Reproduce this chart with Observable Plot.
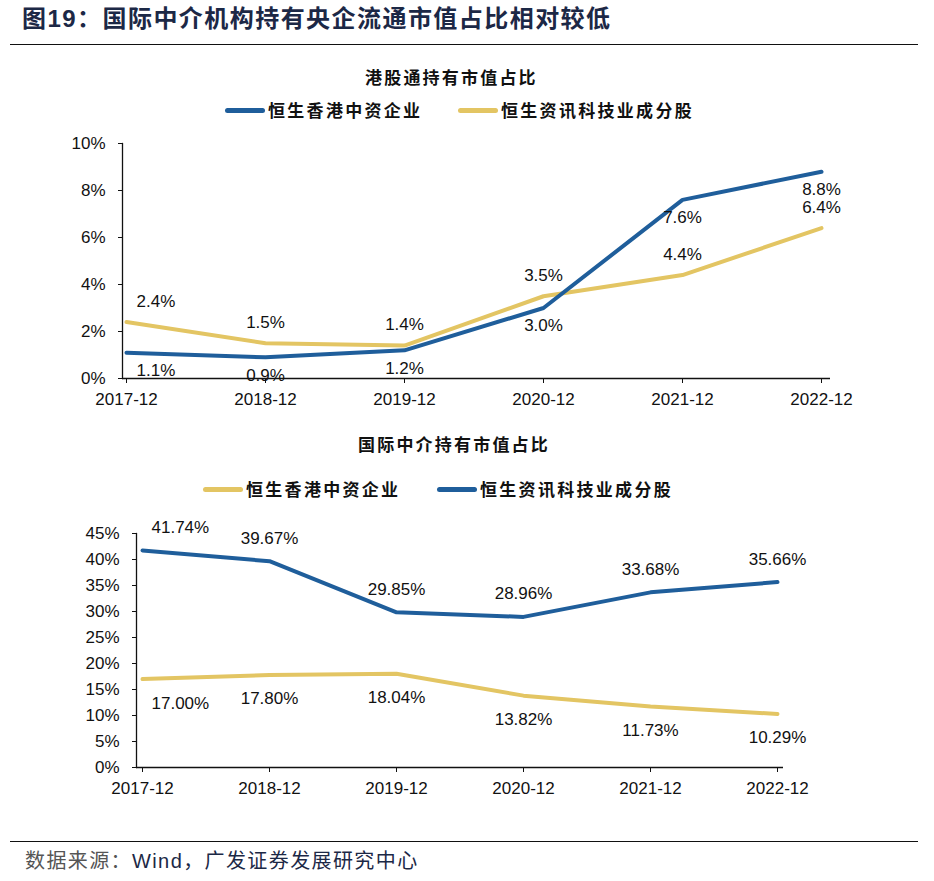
<!DOCTYPE html>
<html><head><meta charset="utf-8">
<script src="https://cdn.jsdelivr.net/npm/d3@7"></script>
<script src="https://cdn.jsdelivr.net/npm/@observablehq/plot@0.6"></script>
<style>
body{margin:0;background:#fff;width:934px;height:881px;position:relative;overflow:hidden;font-family:"Liberation Sans",Arial,sans-serif;}
#title{position:absolute;left:22px;top:4px;font-family:"Liberation Sans","Noto Sans CJK SC";font-weight:700;font-size:24px;color:#1c2846;letter-spacing:1.45px;white-space:nowrap;line-height:30px}
.hr{position:absolute;left:10px;width:908px;height:0;border-top:1.5px solid #111;}
.ctitle{position:absolute;font-family:"Noto Sans CJK SC";font-weight:700;font-size:17px;letter-spacing:2.2px;color:#111;white-space:nowrap;line-height:20px}
.leg{position:absolute;display:flex;align-items:center;font-family:"Noto Sans CJK SC";font-weight:700;font-size:17px;letter-spacing:2.3px;color:#111;white-space:nowrap;line-height:20px}
.sw{display:inline-block;width:40px;height:5px;border-radius:3px;margin-right:3px}
.chart{position:absolute;left:0}
.chart svg{overflow:visible}
#foot{position:absolute;left:25px;top:849px;font-family:"Liberation Sans","Noto Sans CJK SC";font-size:20px;letter-spacing:1.4px;color:#1c2846;white-space:nowrap;line-height:24px}
</style></head>
<body>
<script>
// ---- data ----
const dates = ["2017-12","2018-12","2019-12","2020-12","2021-12","2022-12"];
const seriesNames = ["恒生香港中资企业","恒生资讯科技业成分股"];
// 港股通持有市值占比 (%)
const c1HK   = [1.1, 0.9, 1.2, 3.0, 7.6, 8.8];
const c1Tech = [2.4, 1.5, 1.4, 3.5, 4.4, 6.4];
const c1Ticks = [0, 2, 4, 6, 8, 10];
// 国际中介持有市值占比 (%)
const c2HK   = [17.00, 17.80, 18.04, 13.82, 11.73, 10.29];
const c2Tech = [41.74, 39.67, 29.85, 28.96, 33.68, 35.66];
const c2Ticks = [0, 5, 10, 15, 20, 25, 30, 35, 40, 45];

const mainTitle = "图19：国际中介机构持有央企流通市值占比相对较低";
const chart1Title = "港股通持有市值占比";
const chart2Title = "国际中介持有市值占比";
const source = "数据来源：Wind，广发证券发展研究中心";

const BLUE = "#1f5e9b", GOLD = "#e3c563";

function el(cls, css, html) {
  const d = document.createElement("div");
  if (cls) d.className = cls;
  if (css) d.style.cssText = css;
  if (html != null) d.innerHTML = html;
  document.body.appendChild(d);
  return d;
}

function chart(o) {
  const rowsA = dates.map((d, i) => ({d, v: o.above[i], i}));
  const rowsB = dates.map((d, i) => ({d, v: o.below[i], i}));
  const fmt = r => r.v.toFixed(o.digits) + "%";
  const isFirst = r => r.i === 0;
  const notFirst = r => r.i > 0;
  const textStyle = {fontSize: 17, fill: "#111"};
  const p = Plot.plot({
    width: 934, height: o.height,
    marginTop: o.mt, marginBottom: o.mb, marginLeft: o.ml, marginRight: o.mr,
    x: {type: "point", domain: dates, padding: 0, insetLeft: o.il, insetRight: o.ir, label: null},
    y: {domain: [0, o.ymax], label: null},
    style: {fontFamily: "'Liberation Sans', Arial, sans-serif", fontSize: "17px", color: "#111", background: "transparent", overflow: "visible"},
    marks: [
      Plot.frame({anchor: "left", stroke: "#111", strokeWidth: 1.3}),
      Plot.ruleY([0], {stroke: "#111", strokeWidth: 1.3}),
      Plot.axisY({ticks: o.ticks, tickSize: 4, tickPadding: 13, tickFormat: d => d + "%", label: null}),
      Plot.axisX({tickSize: 5, tickPadding: 9, label: null}),
      Plot.lineY(o.aboveColor === GOLD ? rowsA : rowsB, {x: "d", y: "v", stroke: GOLD, strokeWidth: 4, strokeLinecap: "round", strokeLinejoin: "round"}),
      Plot.lineY(o.aboveColor === GOLD ? rowsB : rowsA, {x: "d", y: "v", stroke: BLUE, strokeWidth: 4, strokeLinecap: "round", strokeLinejoin: "round"}),
      Plot.text(rowsA.filter(notFirst), {x: "d", y: "v", text: fmt, dy: -o.off, ...textStyle}),
      Plot.text(rowsA.filter(isFirst), {x: "d", y: "v", text: fmt, dy: -o.off, dx: o.firstDx, textAnchor: "start", ...textStyle}),
      Plot.text(rowsB.filter(notFirst), {x: "d", y: "v", text: fmt, dy: o.offB, ...textStyle}),
      Plot.text(rowsB.filter(isFirst), {x: "d", y: "v", text: fmt, dy: o.offB, dx: o.firstDx, textAnchor: "start", ...textStyle})
    ]
  });
  const wrap = el("chart", `top:${o.top}px`);
  wrap.appendChild(p);
}

function legendItem(left, top, color, name) {
  el("leg", `left:${left}px;top:${top}px`, `<span class="sw" style="background:${color}"></span><span>${name}</span>`);
}

// header
const t = el(null, null, null); t.id = "title"; t.textContent = mainTitle;
el("hr", "top:44px");

// chart 1
el("ctitle", "left:365px;top:67px").textContent = chart1Title;
legendItem(225, 100, BLUE, seriesNames[0]);
legendItem(458, 100, GOLD, seriesNames[1]);
chart({top: 130, height: 280, mt: 13, mb: 32, ml: 122, mr: 104, il: 3, ir: 8,
  ymax: 10, ticks: c1Ticks, above: c1Tech, below: c1HK, aboveColor: GOLD,
  digits: 1, off: 21, offB: 18, firstDx: 10});

// chart 2
el("ctitle", "left:358px;top:434px").textContent = chart2Title;
legendItem(203, 479, GOLD, seriesNames[0]);
legendItem(437, 479, BLUE, seriesNames[1]);
chart({top: 505, height: 290, mt: 28, mb: 28, ml: 136, mr: 151, il: 4, ir: 5,
  ymax: 45, ticks: c2Ticks, above: c2Tech, below: c2HK, aboveColor: BLUE,
  digits: 2, off: 23, offB: 24, firstDx: 9});

// footer
el("hr", "top:841px");
const f = el(null, null, null); f.id = "foot";
f.innerHTML = `<span style="color:#555">${source.slice(0,5)}</span>${source.slice(5)}`;
</script>
</body></html>
